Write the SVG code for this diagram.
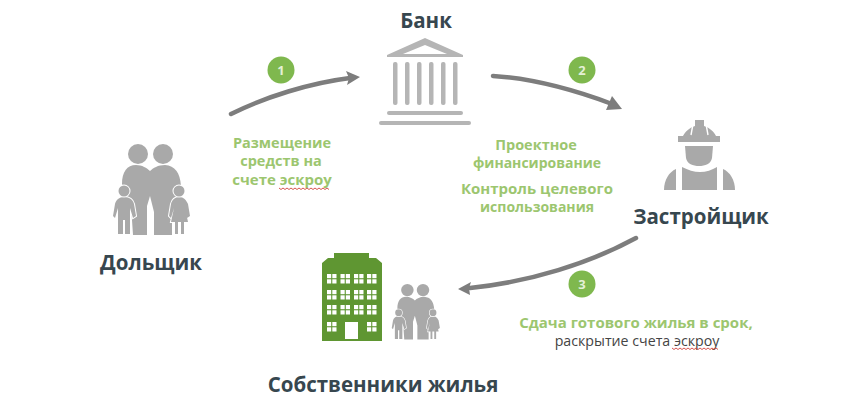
<svg xmlns="http://www.w3.org/2000/svg" xmlns:xlink="http://www.w3.org/1999/xlink" width="842" height="411" viewBox="0 0 842 411">
<style>
text{font-family:"Open Sans","Noto Sans","Liberation Sans",sans-serif;text-anchor:middle}
.title{font-size:20.500px;font-weight:700;fill:#37474f}
.lab{font-size:14.500px;font-weight:700;fill:#9cc66f}
.num{font-size:13px;font-weight:700;fill:#e4f0d6}
.badge{fill:#7fb84e}
.arrow{fill:none;stroke:#7d7d7d;stroke-width:4.500;stroke-linecap:round}
.head{fill:#7d7d7d}
.wavy{fill:none;stroke:#d2423c;stroke-width:.9}
.grey{fill:#a9a9a9}
.kid{fill:#a9a9a9;stroke:#fff;stroke-width:2;paint-order:stroke}
.bar{fill:#b5b5b5}
.win{fill:#fff}
.slot{fill:none;stroke:#fff;stroke-width:1.400}
</style>
<defs>
<g id="family">
<circle class="grey" cx="138" cy="154" r="10"/>
<circle class="grey" cx="163" cy="154" r="10"/>
<path class="grey" d="M122 184C122 172 127 165 136 165C142 165 147 168 150 171C153 168 158 165 165 165C175 166 180 172 181 186L172 205V235H154V212L150 196L147 206V235H133L131 205Z"/>
<path class="kid" d="M124 197C130 197 133 200 134 204L136 216L133 218L130 208V234H125V220H123V234H118V208L115 218L113 216L115 204C116 200 119 197 124 197Z"/>
<circle class="kid" cx="124" cy="191" r="5.500"/>
<path class="kid" d="M179 197C184 197 186 200 188 204L190 216L187 218L185 208L188 222H184V234H181V222H178V234H175V222H171L174 208L171 218L169 216L171 204C172 200 175 197 179 197Z"/>
<circle class="kid" cx="179" cy="191" r="5.500"/>
</g>
<g id="wins" class="win">
<rect x="0" y="0" width="4.200" height="4.200"/><rect x="5.300" y="0" width="4.200" height="4.200"/><rect x="0" y="5.300" width="4.200" height="4.200"/><rect x="5.300" y="5.300" width="4.200" height="4.200"/>
</g>
</defs>

<g id="connectors">
<path class="arrow" d="M231 114C265 97 310 83 350 78"/>
<path class="head" d="M360 77L346 71L349 78L347 85Z"/>
<path class="arrow" d="M493 76C540 79 580 92 612 104"/>
<path class="head" d="M622 109L612 96L609 103L606 110Z"/>
<path class="arrow" d="M636 238C590 263 530 282 470 288"/>
<path class="head" d="M458 289L471 282L469 288L470 295Z"/>
</g>

<g id="bank">
<text class="title" x="426" y="28">Банк</text>
<path class="bar" fill-rule="evenodd" d="M425 38L463 55V57H387V55ZM425 45L403 54H447Z"/>
<rect class="bar" x="393" y="62" width="4.500" height="43" rx="2"/>
<rect class="bar" x="405" y="62" width="4.500" height="43" rx="2"/>
<rect class="bar" x="417" y="62" width="4.500" height="43" rx="2"/>
<rect class="bar" x="429" y="62" width="4.500" height="43" rx="2"/>
<rect class="bar" x="441" y="62" width="4.500" height="43" rx="2"/>
<rect class="bar" x="453" y="62" width="4.500" height="43" rx="2"/>
<rect class="bar" x="387" y="111" width="76" height="4" rx="2"/>
<rect class="bar" x="379" y="121" width="92" height="4" rx="2"/>
</g>

<g id="step1">
<circle class="badge" cx="281" cy="70" r="13.500"/>
<text class="num" x="281" y="75">1</text>
<text class="lab" x="282" y="148">Размещение</text>
<text class="lab" x="281" y="166">средств на</text>
<text class="lab" x="282" y="185" style="font-size:15px">счете эскроу</text>
<path class="wavy" d="M279 188l2 1.500l2-1.500l2 1.500l2-1.500l2 1.500l2-1.500l2 1.500l2-1.500l2 1.500l2-1.500l2 1.500l2-1.500l2 1.500l2-1.500l2 1.500l2-1.500l2 1.500l2-1.500l2 1.500l2-1.500l2 1.500l2-1.500l2 1.500l2-1.500l2 1.500"/>
</g>

<g id="step2">
<circle class="badge" cx="582" cy="70" r="13.500"/>
<text class="num" x="582" y="75">2</text>
<text class="lab" x="536" y="150">Проектное</text>
<text class="lab" x="537" y="168" style="font-size:14px">финансирование</text>
<text class="lab" x="537" y="194" style="font-size:15px">Контроль целевого</text>
<text class="lab" x="537" y="212" style="font-size:14px">использования</text>
</g>

<g id="developer">
<path class="grey" d="M695 120H704V126C710 128 714 132 716 136H720V142H678V136H683C685 132 689 128 695 126Z"/>
<path class="slot" d="M693 124L691 135M706 124L708 135"/>
<path class="grey" d="M685 146H713L712 158C711 164 705 166 699 166C693 166 687 164 686 158Z"/>
<path class="grey" d="M682 167C688 170 694 172 700 172C706 172 712 170 717 167V190H682Z"/>
<path class="grey" d="M676 169V190H664C664 180 669 172 676 169Z"/>
<path class="grey" d="M723 169V190H735C735 180 730 172 723 169Z"/>
<text class="title" x="701" y="224">Застройщик</text>
</g>

<g id="shareholder">
<use xlink:href="#family" href="#family"/>
<text class="title" x="151" y="270">Дольщик</text>
</g>

<g id="owners">
<path fill="#5f9632" d="M322 341V263L328 258H334V253H369V258H376L382 263V341Z"/>
<use href="#wins" x="327" y="274"/><use href="#wins" x="340.500" y="274"/><use href="#wins" x="354" y="274"/><use href="#wins" x="367" y="274"/>
<use href="#wins" x="327" y="290"/><use href="#wins" x="340.500" y="290"/><use href="#wins" x="354" y="290"/><use href="#wins" x="367" y="290"/>
<use href="#wins" x="327" y="305"/><use href="#wins" x="340.500" y="305"/><use href="#wins" x="354" y="305"/><use href="#wins" x="367" y="305"/>
<use href="#wins" x="327" y="322"/><use href="#wins" x="367" y="322"/>
<rect class="win" x="345" y="322" width="13" height="17"/>
<use href="#family" transform="translate(393 284) scale(.625 .61) translate(-115 -144)"/>
<text class="title" x="383" y="392">Собственники жилья</text>
</g>

<g id="step3">
<circle class="badge" cx="582" cy="284" r="13.500"/>
<text class="num" x="582" y="289">3</text>
<text class="lab" x="636" y="328" style="font-size:15px">Сдача готового жилья в срок,</text>
<text x="637" y="346" style="font-size:14.200px;fill:#444">раскрытие счета эскроу</text>
<path class="wavy" d="M672 348l2 1.500l2-1.500l2 1.500l2-1.500l2 1.500l2-1.500l2 1.500l2-1.500l2 1.500l2-1.500l2 1.500l2-1.500l2 1.500l2-1.500l2 1.500l2-1.500l2 1.500l2-1.500l2 1.500l2-1.500l2 1.500l2-1.500l2 1.500"/>
</g>
</svg>
